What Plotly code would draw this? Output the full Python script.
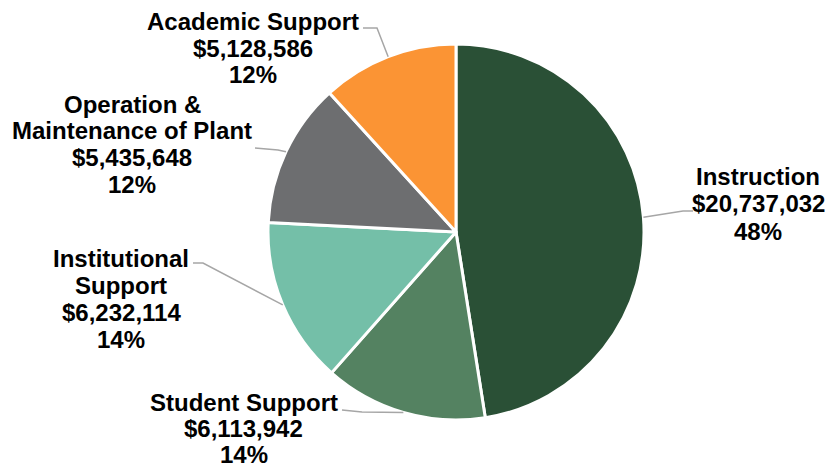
import math
import plotly.graph_objects as go

# browser page has an 8px body margin; size figure to fit inside the window
OFF = 8
W, H = 833 - 2 * OFF, 475 - 2 * OFF

categories = ["Instruction", "Student Support", "Institutional Support",
              "Operation & Maintenance of Plant", "Academic Support"]
values = [20737032, 6113942, 6232114, 5435648, 5128586]
colors = ["#2a5036", "#548261", "#74bfa8", "#6d6e70", "#fb9434"]
label_lines = [["Instruction"], ["Student Support"], ["Institutional", "Support"],
               ["Operation &", "Maintenance of Plant"], ["Academic Support"]]

# layout constants (window pixels)
CX, CY, R = 456, 232, 188
text_pos = [(758, 177), (244, 402), (121, 258), (132, 104), (253, 21)]
line_sp = [27, 26, 27, 27, 27]
elbows = [[(683, 211), (693, 211)], [(362, 412), (342, 410)], [(203, 263), (193, 263)],
          [(278, 150), (255, 148)], [(377, 28), (363, 28)]]


def px(x):
    return (x - OFF) / W


def py(y):
    return 1 - (y - OFF) / H


fig = go.Figure(go.Pie(
    labels=categories, values=values, sort=False, direction="clockwise",
    rotation=0, marker=dict(colors=colors, line=dict(color="white", width=3)),
    textinfo="none", hoverinfo="skip", showlegend=False,
    domain=dict(x=[px(CX - R), px(CX + R)], y=[py(CY + R), py(CY - R)]),
))

total = sum(values)
cum = 0
shapes, annotations = [], []
for i, v in enumerate(values):
    frac = v / total
    mid = (cum + frac / 2) * 2 * math.pi
    cum += frac
    ex = CX + R * math.sin(mid)
    ey = CY - R * math.cos(mid)
    pts = [(ex, ey)] + elbows[i]
    path = "M " + " L ".join(f"{px(a):.5f},{py(b):.5f}" for a, b in pts)
    shapes.append(dict(type="path", path=path, xref="paper", yref="paper",
                       line=dict(color="#a6a6a6", width=1.5)))
    lines = label_lines[i] + [f"${v:,}", f"{round(frac * 100)}%"]
    tx, ty = text_pos[i]
    for j, t in enumerate(lines):
        annotations.append(dict(
            text=t, x=px(tx), y=py(ty + j * line_sp[i]), xref="paper", yref="paper",
            xanchor="center", yanchor="middle", showarrow=False,
            font=dict(family="Liberation Sans, Arial, sans-serif", size=24,
                      color="#000000", weight="bold"),
        ))

fig.update_layout(
    width=W, height=H, margin=dict(l=0, r=0, t=0, b=0),
    paper_bgcolor="white", plot_bgcolor="white",
    shapes=shapes, annotations=annotations,
)

fig.write_html("out.html")
